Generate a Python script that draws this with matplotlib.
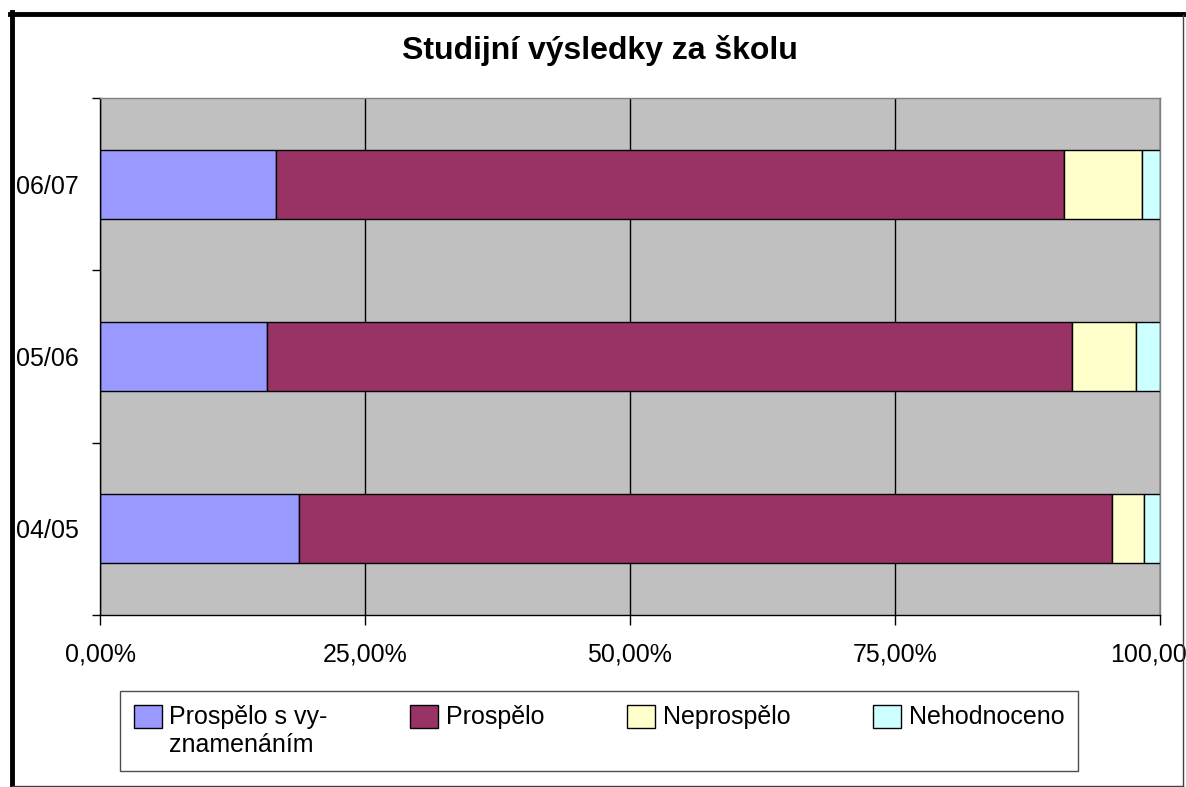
"""Studijní výsledky za školu - 100% stacked horizontal bars."""

import matplotlib

matplotlib.use("Agg")
import matplotlib.pyplot as plt
from matplotlib.lines import Line2D

plt.rcParams["font.family"] = ["Liberation Sans", "DejaVu Sans"]

years = ["04/05", "05/06", "06/07"]
series_names = ["Prospělo s vy-\nznamenáním", "Prospělo", "Neprospělo", "Nehodnoceno"]
series_values = {
    "Prospělo s vy-\nznamenáním": [18.81, 15.79, 16.58],
    "Prospělo": [76.68, 75.95, 74.41],
    "Neprospělo": [3.02, 6.01, 7.33],
    "Nehodnoceno": [1.49, 2.25, 1.68],
}
series_colors = ["#9999FF", "#993366", "#FFFFCC", "#CCFFFF"]
x_ticks = [0, 25, 50, 75, 100]
x_tick_labels = ["0,00%", "25,00%", "50,00%", "75,00%", "100,00%"]
title = "Studijní výsledky za školu"

W, H = 1186, 787
fig = plt.figure(figsize=(W / 100, H / 100), dpi=100)
ax = fig.add_axes([100 / W, (H - 615) / H, 1059.5 / W, 517 / H])
ax.set_facecolor("#C0C0C0")
ax.set_axisbelow(True)

left = [0.0] * len(years)
for name, color in zip(series_names, series_colors):
    vals = series_values[name]
    ax.barh(
        range(len(years)), vals, left=left, height=0.4,
        color=color, edgecolor="black", linewidth=1.0, label=name,
    )
    left = [a + b for a, b in zip(left, vals)]

ax.set_xlim(0, 100)
ax.set_ylim(-0.5, len(years) - 0.5)
ax.set_xticks(x_ticks)
ax.set_xticklabels(x_tick_labels, fontsize=18)
ax.tick_params(axis="x", direction="out", length=7, width=1, pad=13)
ax.grid(axis="x", color="black", linewidth=1)

ax.set_yticks([i - 0.5 for i in range(len(years) + 1)])
ax.set_yticklabels([])
ax.tick_params(axis="y", which="major", direction="out", length=6, width=1)
ax.set_yticks(range(len(years)), minor=True)
ax.set_yticklabels(years, minor=True, fontsize=18)
ax.tick_params(axis="y", which="minor", length=0, pad=15)

for side in ("left", "bottom"):
    ax.spines[side].set_color("black")
    ax.spines[side].set_linewidth(1)
for side in ("top", "right"):
    ax.spines[side].set_color("#808080")
    ax.spines[side].set_linewidth(1)

fig.text(600 / W, 1 - 51 / H, title, ha="center", va="center",
         fontsize=23, fontweight="bold")

leg = fig.legend(
    loc="upper left",
    bbox_to_anchor=(120 / W, (H - 773) / H, 958 / W, 82 / H),
    mode="expand", ncol=4, fontsize=18, frameon=True, fancybox=False,
    borderaxespad=0, borderpad=0.55, handlelength=1.12, handleheight=1.04,
    handletextpad=0.3, labelspacing=0.2,
)
leg.get_frame().set_edgecolor("#202020")
leg.get_frame().set_linewidth(1)
# align each patch with the first line of its label, like the original
leg._legend_handle_box.align = "top"
for column in leg._legend_handle_box.get_children():
    column.align = "left"
    for item in column.get_children():
        item.align = "top"
for t in leg.get_texts():
    t.set_linespacing(1.25)

# outer chart frame: thick black top/left, thin gray right/bottom
fig.add_artist(Line2D([10 / W, 1183 / W], [1 - 13.5 / H] * 2,
                      color="black", linewidth=3.5, transform=fig.transFigure))
fig.add_artist(Line2D([11.5 / W] * 2, [1 - 12 / H, 1 - 786 / H],
                      color="black", linewidth=3.5, transform=fig.transFigure))
fig.add_artist(Line2D([1183 / W] * 2, [1 - 15 / H, 1 - 786 / H],
                      color="#404040", linewidth=1, transform=fig.transFigure))
fig.add_artist(Line2D([12 / W, 1183 / W], [1 - 786 / H] * 2,
                      color="#404040", linewidth=1, transform=fig.transFigure))

fig.savefig("out.png", dpi=100)
